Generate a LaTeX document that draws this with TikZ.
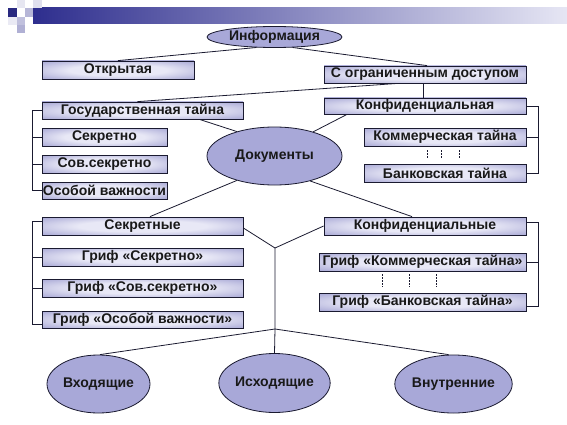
\documentclass[tikz,border=0pt]{standalone}
\usepackage{fontspec}
\setmainfont{Liberation Sans}
\usetikzlibrary{shapes.geometric,calc}
\definecolor{boxedge}{HTML}{ADADD8}
\definecolor{boxmid}{HTML}{E8E8F6}
\definecolor{ovalfill}{HTML}{A8A8D8}
\definecolor{lineclr}{HTML}{1A1A30}
\definecolor{barleft}{HTML}{2E2E8E}
\definecolor{barright}{HTML}{E6E6F4}
\pgfdeclareradialshading{boxshade}{\pgfpoint{0bp}{0bp}}{color(0bp)=(boxmid); color(16bp)=(boxmid); color(34bp)=(boxedge); color(50bp)=(boxedge)}
\begin{document}
\begin{tikzpicture}[x=1pt,y=-1pt,
  txt/.style={font=\bfseries\fontsize{14}{16}\selectfont,text=black!90},
  box/.style={txt,rectangle,draw=lineclr,line width=0.8pt,inner sep=0pt,shading=boxshade},
  oval/.style={txt,ellipse,draw=lineclr,line width=0.8pt,inner sep=0pt,fill=ovalfill},
  conn/.style={draw=lineclr,line width=0.8pt},
  dots/.style={draw=lineclr,line width=0.6pt,dash pattern=on 1.5pt off 1.5pt}]
\useasboundingbox (0,0) rectangle (567,425);
% header decoration
\shade[left color=barleft,right color=barright] (33,8) rectangle (567,24);
\fill[barleft!90!black] (8,8) rectangle (17,17);
\fill[barleft!12] (17,0) rectangle (25,8);
\fill[barleft!35] (25,8) rectangle (33,17);
\fill[barleft!15] (33,0) rectangle (42,8);
\fill[barleft!30] (17,17) rectangle (25,25);
\fill[barleft!38] (17,25) rectangle (25,33);
\fill[barleft!10] (8,17) rectangle (17,25);
% nodes
\node[oval,minimum width=135,minimum height=21] (info) at (274.5,37) {Информация};
\node[box,minimum width=152,minimum height=18] (open) at (118,70) {Открытая};
\node[box,minimum width=202,minimum height=17] (limited) at (425,74.5) {С ограниченным доступом};
\node[box,minimum width=201,minimum height=17] (gos) at (142.5,110.5) {Государственная тайна};
\node[box,minimum width=125,minimum height=18] (sek) at (104.5,137) {Секретно};
\node[box,minimum width=125,minimum height=18] (sovsek) at (104.5,164) {Сов.секретно};
\node[box,minimum width=125,minimum height=17] (osob) at (104.5,190.5) {Особой важности};
\node[box,minimum width=202,minimum height=16] (konf) at (425,106) {Конфиденциальная};
\node[box,minimum width=162,minimum height=18] (komm) at (445,137) {Коммерческая тайна};
\node[box,minimum width=162,minimum height=18] (bank) at (445,173) {Банковская тайна};
\node[oval,minimum width=135,minimum height=58] (doc) at (274.5,156) {Документы};
\node[box,minimum width=201,minimum height=18] (sekretnye) at (142.5,226) {Секретные};
\node[box,minimum width=201,minimum height=18] (g1) at (142.5,257) {Гриф «Секретно»};
\node[box,minimum width=201,minimum height=18] (g2) at (142.5,288) {Гриф «Сов.секретно»};
\node[box,minimum width=201,minimum height=17] (g3) at (142.5,319.5) {Гриф «Особой важности»};
\node[box,minimum width=202,minimum height=18] (konfnye) at (425,226) {Конфиденциальные};
\node[box,minimum width=207,minimum height=18] (gk) at (422.5,262) {Гриф «Коммерческая тайна»};
\node[box,minimum width=207,minimum height=18] (gb) at (422.5,302) {Гриф «Банковская тайна»};
\node[oval,minimum width=103,minimum height=58] (vx) at (98.5,384) {Входящие};
\node[oval,minimum width=97,minimum height=59] (isx) at (274.5,383) {Исходящие};
\node[oval,minimum width=117,minimum height=58] (vn) at (453.5,384) {Внутренние};
\coordinate (j1) at (275,248);
\coordinate (j2) at (275,329);
% connectors
\draw[conn] (info.210) -- (open.north);
\draw[conn] (info.330) -- ($(limited.north)+(2,0)$);
\draw[conn] ($(limited.south)+(-27,0)$) -- ($(gos.north)+(-5,0)$);
\draw[conn] ($(limited.south)+(-2,0)$) -- ($(konf.north)+(-2,0)$);
\draw[conn] ($(gos.south)+(57,0)$) -- (doc.147);
\draw[conn] ($(konf.south)+(-78,0)$) -- (doc.32);
\draw[conn] (doc.213) -- ($(sekretnye.north)+(7.5,0)$);
\draw[conn] (doc.325) -- ($(konfnye.north)+(-13,0)$);
\draw[conn] ($(sekretnye.east)+(0,2)$) -- (j1);
\draw[conn] (konfnye.west) -- (j1);
\draw[conn] (j1) -- (j2) -- (isx.north);
\draw[conn] (j2) -- ($(vx.north)+(1.5,0)$);
\draw[conn] (j2) -- ($(vn.north)+(-5,0)$);
% brackets
\draw[conn] (gos.west) -- ++(-9,0) |- (osob.west);
\draw[conn] (sek.west) -- ++(-9,0);
\draw[conn] (sovsek.west) -- ++(-9,0);
\draw[conn] ($(sekretnye.west)+(0,-5)$) -- ++(-9,0) |- ($(g3.west)+(0,4.5)$);
\draw[conn] (g1.west) -- ++(-9,0);
\draw[conn] (g2.west) -- ++(-9,0);
\draw[conn] (konf.east) -- ++(12,0) |- (bank.east);
\draw[conn] (komm.east) -- ++(12,0);
\draw[conn] ($(konfnye.east)+(0,-4)$) -- ++(12,0) |- ($(gb.east)+(0,4)$);
\draw[conn] (gk.east) -- ++(12,0);
% dotted separators
\foreach \x in {427,441,459} \draw[dots] (\x,150) -- (\x,158);
\foreach \x in {382,409,436} \draw[dots] (\x,274) -- (\x,287);
\end{tikzpicture}
\end{document}
